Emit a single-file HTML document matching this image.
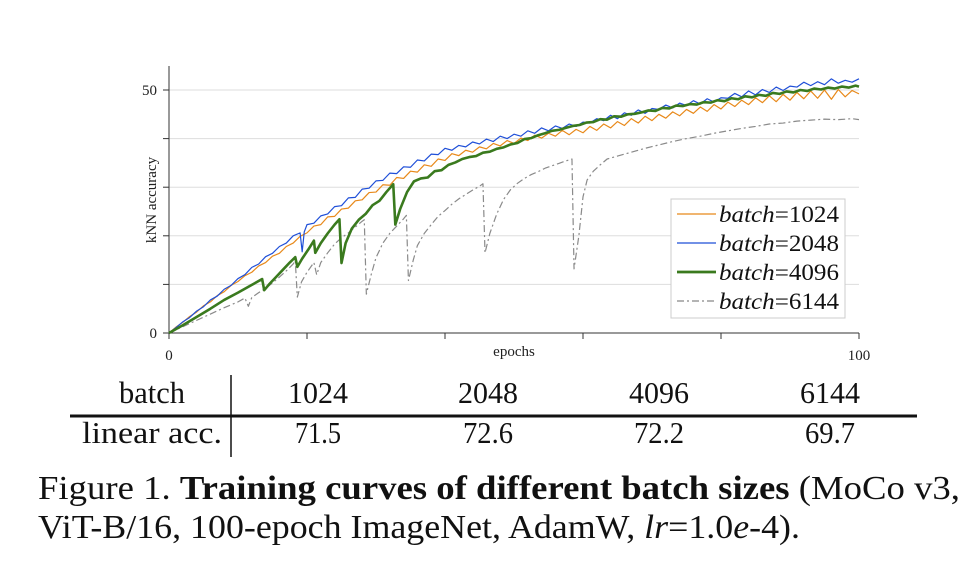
<!DOCTYPE html>
<html><head><meta charset="utf-8"><style>html,body{margin:0;padding:0;background:#fff}svg{display:block}</style></head>
<body>
<svg width="973" height="573" viewBox="0 0 973 573" xmlns="http://www.w3.org/2000/svg" font-family="Liberation Serif, serif">
<g stroke="#ddd" stroke-width="1">
<line x1="169" y1="90" x2="859" y2="90"/><line x1="169" y1="138.6" x2="859" y2="138.6"/>
<line x1="169" y1="187.2" x2="859" y2="187.2"/><line x1="169" y1="235.8" x2="859" y2="235.8"/>
<line x1="169" y1="284.4" x2="859" y2="284.4"/>
</g>
<g stroke="#333" stroke-width="1">
<line x1="169" y1="66" x2="169" y2="333"/><line x1="169" y1="333" x2="859" y2="333"/>
<line x1="163" y1="90" x2="169" y2="90"/><line x1="163" y1="138.6" x2="169" y2="138.6"/><line x1="163" y1="187.2" x2="169" y2="187.2"/><line x1="163" y1="235.8" x2="169" y2="235.8"/><line x1="163" y1="284.4" x2="169" y2="284.4"/><line x1="163" y1="333" x2="169" y2="333"/>
<line x1="169" y1="333" x2="169" y2="339"/><line x1="307" y1="333" x2="307" y2="339"/><line x1="445" y1="333" x2="445" y2="339"/><line x1="583" y1="333" x2="583" y2="339"/><line x1="721" y1="333" x2="721" y2="339"/><line x1="859" y1="333" x2="859" y2="339"/>
</g>
<g font-size="15" fill="#222">
<text x="157" y="95" text-anchor="end">50</text>
<text x="157" y="338" text-anchor="end">0</text>
<text x="169" y="360" text-anchor="middle">0</text>
<text x="859" y="360" text-anchor="middle">100</text>
<text x="514" y="356" text-anchor="middle">epochs</text>
<text transform="translate(156,200) rotate(-90)" text-anchor="middle">kNN accuracy</text>
</g>
<g transform="translate(169,333) scale(6.9,-4.86)" fill="none" stroke-linejoin="round">
<polyline vector-effect="non-scaling-stroke" stroke="#8a8a8a" stroke-width="1.2" stroke-dasharray="7,3,2,3" points="0,0 2,1.3 4,2.6 6,3.9 8,5.2 10,6.4 11,7.2 11.5,5.5 12,7.3 13,8.3 14,9.2 15,10.3 16,11.5 17,12.8 18,14.2 18.3,14.9 18.6,7.4 19.2,10.5 20,12.5 21,14.5 21.4,12 22,14.5 23,16.5 24,18.3 25,19.6 26,20.6 27,21.8 28,23 28.3,23.3 28.6,8 29.3,12 30,15.5 31,18.5 32,20.5 33,22 34,23.5 34.4,24.2 34.7,10.8 35.4,15 36,18 37,20.5 38,22.3 39,24 40,25.2 41,26.5 42,27.6 43,28.5 44,29.4 45,30.2 45.5,30.7 45.8,16.5 46.5,20.5 47.5,24.5 48.5,27.5 49.5,29.5 50.5,30.8 51.5,31.8 52.5,32.6 53.5,33.2 54.5,33.9 55.5,34.4 56.5,34.9 57.5,35.4 58.4,35.8 58.7,13.2 59.4,20 60,28 60.6,31.5 61.5,33.3 62.5,34.6 63.5,35.8 65,36.4 67,37.2 69,38 71,38.7 73,39.4 75,40 77,40.5 79,41.1 81,41.6 83,42.1 85,42.5 87,43 89,43.2 91,43.6 93,43.8 95,44 97,43.9 99,44.1 100,43.9"/>
<polyline vector-effect="non-scaling-stroke" stroke="#e8891a" stroke-width="1.2" points="0,0 1,1.2 2,2.2 3,3.4 4,4.3 5,5.6 6,6.4 7,7.7 8,8.5 9,9.8 10,10.6 11,11.8 12,12.5 13,13.8 14,14.5 15,15.8 16,16.4 17,17.8 18,18.5 19,19.9 20,20.6 21,22 22,22.3 23,23.9 24,24 25,25.5 26,25.7 27,27.2 28,27.4 29,28.9 30,29 31,30.5 32,30.4 33,32 34,31.8 35,33.3 36,33.1 37,34.6 38,34.3 39,35.8 40,35.5 41,36.9 42,36.5 43,37.6 44,37.2 45,38.3 46,37.9 47,39 48,38.5 49,39.6 50,39 51,40.1 52,39.6 53,40.7 54,40.1 55,41.1 56,40.5 57,41.7 58,40.8 59,41.9 60,41.2 61,42.5 62,41.7 63,43 64,42.2 65,43.5 66,42.7 67,44.1 68,43.2 69,44.6 70,43.7 71,45 72,44.2 73,45.5 74,44.7 75,46 76,45.2 77,46.5 78,45.6 79,47 80,46.1 81,47.5 82,46.6 83,47.9 84,47 85,48.4 86,47.4 87,48.8 88,47.6 89,49.1 90,47.9 91,49.5 92,48.2 93,49.8 94,48.3 95,50 96,48.1 97,50.1 98,48.6 99,49.9 100,49.2"/>
<polyline vector-effect="non-scaling-stroke" stroke="#1f4fd8" stroke-width="1.2" points="0,0 1,1.1 2,2.3 3,3.2 4,4.5 5,5.4 6,6.8 7,7.6 8,9 9,9.8 10,11.2 11,12 12,13.5 13,14.2 14,15.7 15,16.4 16,17.8 17,18.5 18,20 19,20.6 19.3,16.7 19.6,20.8 20,22.3 21,22.6 22,24.1 23,24.5 24,26 25,26.2 26,27.8 27,27.9 28,29.6 29,29.8 30,31.3 31,31.4 32,32.9 33,32.8 34,34.2 35,34.1 36,35.6 37,35.4 38,36.8 39,36.7 40,38 41,37.6 42,38.6 43,38.3 44,39.3 45,38.9 46,39.9 47,39.4 48,40.5 49,40 50,40.9 51,40.5 52,41.6 53,41.1 54,42.2 55,41.6 56,42.6 57,42.1 58,43 59,42.5 60,43.4 61,43.2 62,44.1 63,43.7 64,44.8 65,44.1 66,45.3 67,44.8 68,45.9 69,45.2 70,46.2 71,46 72,46.9 73,46.3 74,47.3 75,46.8 76,47.8 77,47.1 78,48.2 79,47.5 80,48.4 81,48.3 82,49.3 83,48.6 84,49.8 85,49 86,50.1 87,49.5 88,50.6 89,49.9 90,50.8 91,50.6 92,51.6 93,50.9 94,51.7 95,51.1 96,52.3 97,51.4 98,52 99,51.6 100,52.3"/>
<polyline vector-effect="non-scaling-stroke" stroke="#3a7a1e" stroke-width="2.6" points="0,0 2,1.6 4,3.3 6,5 8,6.8 10,8.3 12,9.9 13.5,11.1 13.8,8.8 14.5,10 15.5,11.5 16.5,13 17.5,14.5 18.3,15.6 18.6,13.6 19.3,15.3 20.2,17.2 21,19 21.2,16.5 22,18.5 23,20.5 24,22.3 24.7,23.4 25,14.4 25.6,18.5 26.5,21.5 27.5,23.3 28.5,24.5 29.5,26.3 30.5,27.2 31.5,29 32.5,30.6 32.8,22.3 33.5,25.5 34.5,29 35.5,31.2 36.5,31.8 37.5,32 38.5,33.3 39.5,33.5 40.5,34.6 41.5,35.1 42.5,35.8 43.5,36.2 44.5,36.4 45.5,37.1 46.5,37.3 47.5,37.9 48.5,38.2 49.5,38.8 50.5,39.1 51.5,39.9 52.5,40.1 53.5,40.7 54.5,41.1 55.5,41.6 56.5,41.8 57.5,42.2 58.5,42.6 59.5,42.8 60.5,43.3 61.5,43.4 62.5,44 63.5,43.9 64.5,44.6 65.5,44.5 66.5,45 67.5,45.1 68.5,45.4 69.5,45.8 70.5,45.7 71.5,46.3 72.5,46.2 73.5,46.8 74.5,46.7 75.5,47.1 76.5,47 77.5,47.5 78.5,47.4 79.5,47.9 80.5,47.7 81.5,48.3 82.5,48.1 83.5,48.7 84.5,48.5 85.5,49 86.5,48.8 87.5,49.4 88.5,49.2 89.5,49.7 90.5,49.5 91.5,50 92.5,49.8 93.5,50.3 94.5,50.1 95.5,50.5 96.5,50.3 97.5,50.7 98.5,50.5 99.5,50.9 100,50.7"/>
</g>
<rect x="671" y="199" width="174" height="119" fill="#fff" stroke="#ccc"/>
<g font-size="23" font-style="italic" fill="#111">
<line x1="677" y1="214" x2="716" y2="214" stroke="#e8891a" stroke-width="1.2"/>
<text x="719" y="222" textLength="120" lengthAdjust="spacingAndGlyphs">batch<tspan font-style="normal">=1024</tspan></text>
<line x1="677" y1="243" x2="716" y2="243" stroke="#1f4fd8" stroke-width="1.2"/>
<text x="719" y="251" textLength="120" lengthAdjust="spacingAndGlyphs">batch<tspan font-style="normal">=2048</tspan></text>
<line x1="677" y1="272" x2="716" y2="272" stroke="#3a7a1e" stroke-width="2.8"/>
<text x="719" y="280" textLength="120" lengthAdjust="spacingAndGlyphs">batch<tspan font-style="normal">=4096</tspan></text>
<line x1="677" y1="301" x2="716" y2="301" stroke="#888" stroke-width="1.2" stroke-dasharray="7,3,2,3"/>
<text x="719" y="309" textLength="120" lengthAdjust="spacingAndGlyphs">batch<tspan font-style="normal">=6144</tspan></text>
</g>
<g font-size="31" fill="#111" text-anchor="middle">
<text x="152" y="403" textLength="66" lengthAdjust="spacingAndGlyphs">batch</text>
<text x="318" y="403" textLength="60" lengthAdjust="spacingAndGlyphs">1024</text><text x="488" y="403" textLength="60" lengthAdjust="spacingAndGlyphs">2048</text><text x="659" y="403" textLength="60" lengthAdjust="spacingAndGlyphs">4096</text><text x="830" y="403" textLength="60" lengthAdjust="spacingAndGlyphs">6144</text>
<text x="152" y="443" textLength="140" lengthAdjust="spacingAndGlyphs">linear acc.</text>
<text x="318" y="443" textLength="46" lengthAdjust="spacingAndGlyphs">71.5</text><text x="488" y="443" textLength="50" lengthAdjust="spacingAndGlyphs">72.6</text><text x="659" y="443" textLength="50" lengthAdjust="spacingAndGlyphs">72.2</text><text x="830" y="443" textLength="50" lengthAdjust="spacingAndGlyphs">69.7</text>
</g>
<line x1="231" y1="375" x2="231" y2="457" stroke="#111" stroke-width="1.5"/>
<line x1="70" y1="416" x2="917" y2="416" stroke="#111" stroke-width="3"/>
<g font-size="34" fill="#111">
<text x="38" y="499" textLength="922" lengthAdjust="spacingAndGlyphs">Figure 1.   <tspan font-weight="bold">Training curves of different batch sizes</tspan> (MoCo v3,</text>
<text x="38" y="538" textLength="762" lengthAdjust="spacingAndGlyphs">ViT-B/16, 100-epoch ImageNet, AdamW, <tspan font-style="italic">lr</tspan>=1.0<tspan font-style="italic">e</tspan>-4).</text>
</g>
</svg>
</body></html>
